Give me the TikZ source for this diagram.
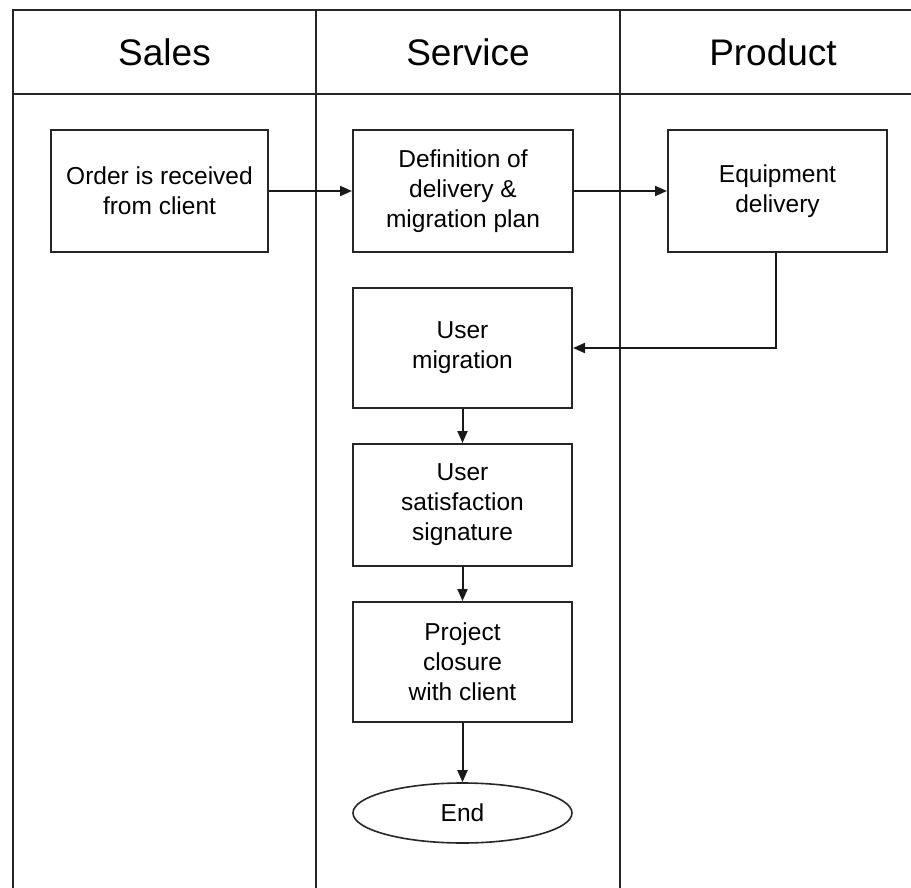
\documentclass[tikz,border=0pt]{standalone}
\usepackage{fontspec}
\setmainfont{Liberation Sans}
\usetikzlibrary{arrows.meta,shapes.geometric}

\tikzset{
  lane/.style={line width=2pt, draw=black!85},
  stepbox/.style={draw=black!85, line width=2pt, rectangle, align=center,
    inner sep=0pt, minimum width=219pt, minimum height=122pt,
    font=\fontsize{24.5}{30}\selectfont},
  endnode/.style={draw=black!85, line width=1.6pt, ellipse, inner sep=0pt,
    minimum width=219pt, minimum height=60pt,
    font=\fontsize{24.5}{30}\selectfont},
  header/.style={font=\fontsize{37}{40}\selectfont, inner sep=0pt},
  flow/.style={line width=2pt, draw=black!90,
    -{Triangle[length=12pt,width=10pt]}},
}

\begin{document}
\begin{tikzpicture}[x=1pt,y=-1pt]
  \useasboundingbox (0,0) rectangle (911,888);

  % swimlane frame: top edge, header rule, lane separators
  \draw[lane] (911,10) -- (13,10) -- (13,888);
  \draw[lane] (13,94) -- (911,94);
  \draw[lane] (316,10) -- (316,888);
  \draw[lane] (620,10) -- (620,888);

  % lane titles
  \node[header] (hsales)   at (164.5,52) {Sales};
  \node[header] (hservice) at (468,52)   {Service};
  \node[header] (hproduct) at (773,52)   {Product};

  % process steps
  \node[stepbox, minimum width=217pt] (order) at (159.5,191)
    {Order is received\\from client};
  \node[stepbox, minimum width=220pt] (plan) at (463,191)
    {Definition of\\delivery \&\\migration plan};
  \node[stepbox] (equip) at (777.5,191)
    {Equipment\\delivery};
  \node[stepbox, minimum height=120pt] (migr) at (462.5,348)
    {User\\migration};
  \node[stepbox] (satis) at (462.5,505)
    {User\\satisfaction\\signature};
  \node[stepbox, minimum height=120pt] (closure) at (462.5,662)
    {Project\\closure\\with client};
  \node[endnode] (end) at (462.5,813) {End};

  % flow connectors
  \draw[flow] (order) -- (plan);
  \draw[flow] (plan) -- (equip);
  \draw[flow] ([xshift=-1.5pt]equip.south) |- (migr.east);
  \draw[flow] (migr) -- (satis);
  \draw[flow] (satis) -- (closure);
  \draw[flow] (closure) -- (end);
\end{tikzpicture}
\end{document}
